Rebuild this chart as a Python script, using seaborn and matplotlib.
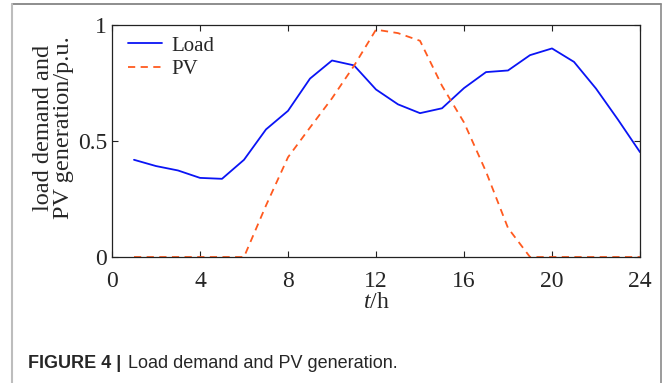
import numpy as np
import pandas as pd
import matplotlib
matplotlib.use("Agg")
import matplotlib.pyplot as plt
from matplotlib.lines import Line2D
import seaborn as sns

# Hourly profiles (per unit)
hours = list(range(1, 25))
load = [0.419, 0.392, 0.373, 0.341, 0.337, 0.419, 0.550, 0.630, 0.769, 0.847,
        0.826, 0.722, 0.658, 0.620, 0.641, 0.728, 0.797, 0.804, 0.870, 0.899,
        0.841, 0.726, 0.592, 0.452]
pv = [0.0, 0.0, 0.0, 0.0, 0.0, 0.0, 0.222, 0.430, 0.558, 0.684,
      0.824, 0.980, 0.965, 0.932, 0.738, 0.580, 0.368, 0.125, 0.0, 0.0,
      0.0, 0.0, 0.0, 0.0]
series_names = ["Load", "PV"]
x_ticks = [0, 4, 8, 12, 16, 20, 24]
y_ticks = [0, 0.5, 1]
y_tick_labels = ["0", "0.5", "1"]

df = pd.DataFrame({
    "t": hours * 2,
    "value": load + pv,
    "series": [series_names[0]] * len(hours) + [series_names[1]] * len(hours),
})

sns.set_style("ticks")
plt.rcParams["font.family"] = ["Liberation Serif", "DejaVu Serif"]
plt.rcParams["mathtext.fontset"] = "custom"
plt.rcParams["mathtext.rm"] = "Liberation Serif"
plt.rcParams["mathtext.it"] = "Liberation Serif:italic"

W, H = 665, 383
fig = plt.figure(figsize=(W / 100, H / 100), dpi=100)
ax = fig.add_axes([112 / W, 1 - 257 / H, (640 - 112) / W, (257 - 25) / H])

palette = {"Load": "#0a14f5", "PV": "#ff5a1f"}
sns.lineplot(data=df, x="t", y="value", hue="series", style="series",
             palette=palette, dashes={"Load": "", "PV": (4, 3)},
             linewidth=1.3, ax=ax, legend=False)

ax.set_xlim(0, 24)
ax.set_ylim(0, 1)
ax.set_xticks(x_ticks)
ax.set_xticklabels([str(v) for v in x_ticks])
ax.set_yticks(y_ticks)
ax.set_yticklabels(y_tick_labels)
ax.tick_params(direction="in", top=True, right=True, length=4, width=0.8,
               labelsize=17, color="#222222")
ax.tick_params(axis="x", pad=10)
ax.tick_params(axis="y", pad=3.5)
for s in ax.spines.values():
    s.set_linewidth(0.9)
    s.set_color("#222222")

ax.set_xlabel("$t$/h", fontsize=17, labelpad=0)
ax.set_ylabel("load demand and\nPV generation/p.u.", fontsize=17.5,
              linespacing=0.95)
ax.yaxis.set_label_coords(-0.072, 0.556)

handles = [
    Line2D([], [], color=palette["Load"], lw=1.3),
    Line2D([], [], color=palette["PV"], lw=1.3, ls=(0, (4, 3))),
]
ax.legend(handles, series_names, loc="upper left", frameon=False,
          fontsize=15, handlelength=1.6, handletextpad=0.45,
          borderaxespad=0.3, labelspacing=0.2, bbox_to_anchor=(0.003, 1.015))

# Caption below the chart
cap_y = 1 - 363 / H
t1 = fig.text(28 / W, cap_y, "FIGURE 4 |", fontsize=13, fontweight="bold",
              family="Liberation Sans", va="center", ha="left")
fig.canvas.draw()
bb = t1.get_window_extent()
fig.text((bb.x1 + 7) / W, cap_y, "Load demand and PV generation.",
         fontsize=13, family="Liberation Sans", va="center", ha="left")

# Page frame
fig.add_artist(Line2D([12 / W, 661 / W], [1 - 4 / H, 1 - 4 / H],
                      transform=fig.transFigure, color="#7a7a7a", lw=1.2))
fig.add_artist(Line2D([12 / W, 12 / W], [0, 1 - 4 / H],
                      transform=fig.transFigure, color="#bdbdbd", lw=1.5))
fig.add_artist(Line2D([661 / W, 661 / W], [0, 1 - 4 / H],
                      transform=fig.transFigure, color="#8a8a8a", lw=1.2))

fig.savefig("out.png", dpi=100)
